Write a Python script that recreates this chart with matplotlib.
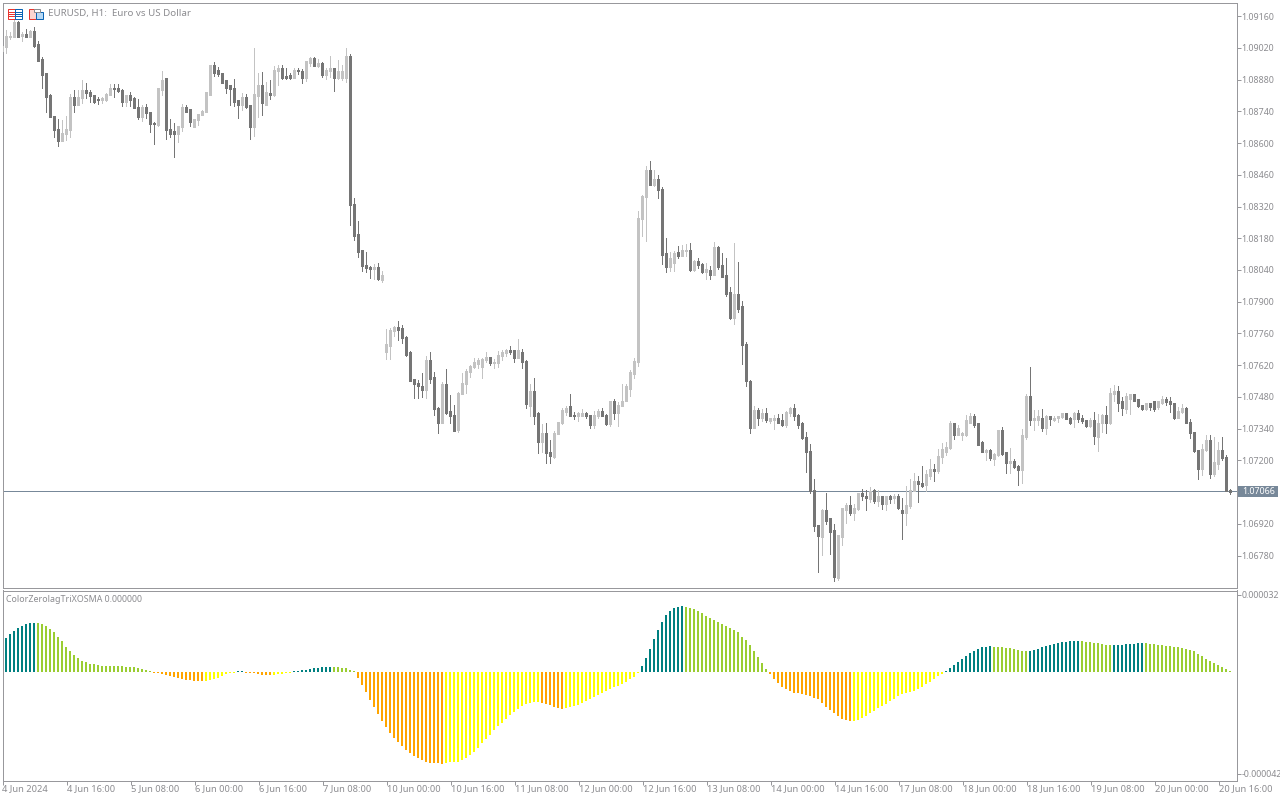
import matplotlib
matplotlib.use('Agg')
import matplotlib.pyplot as plt
from matplotlib.patches import Rectangle
import numpy as np

# EURUSD H1 prices, in points (1e-5), one value per bar
opens = [
    109010,109025,109069,109069,109131,109074,109080,109072,109094,109033,108969,108905,108808,108719,108662,108612,
    108644,108658,108803,108772,108799,108830,108825,108812,108794,108790,108790,108812,108842,108843,108834,108781,
    108808,108797,108759,108715,108759,108737,108687,108680,108834,108887,108662,108649,108640,108671,108759,108746,
    108671,108702,108724,108737,108816,108944,108922,108909,108874,108852,108843,108786,108768,108799,108764,108671,
    108808,108852,108772,108819,108816,108919,108931,108894,108900,108891,108922,108918,108891,108953,108971,108944,
    108953,108900,108918,108927,108887,108887,108887,108984,108331,108195,108124,108062,108051,108046,108053,107996,
    107678,107705,107771,107788,107780,107744,107674,107555,107541,107528,107511,107643,107564,107431,107365,107533,
    107414,107400,107334,107493,107537,107590,107612,107625,107616,107643,107652,107631,107630,107661,107674,107683,
    107683,107652,107678,107638,107444,107506,107409,107281,107321,107237,107215,107317,107365,107414,107436,107399,
    107400,107400,107405,107400,107356,107396,107418,107400,107361,107458,107409,107440,107462,107519,107581,107638,
    108265,108362,108481,108419,108441,108397,108115,108057,108071,108119,108102,108125,108128,108040,108079,108066,
    108035,108040,108018,108141,108062,108018,107943,107828,107934,107877,107713,107550,107343,107422,107387,107405,
    107374,107378,107383,107374,107356,107409,107427,107400,107361,107303,107241,107069,106915,106862,106977,106942,
    106893,106681,106862,106981,107003,106972,106986,107056,107043,107030,107069,107021,107039,107008,107039,107034,
    107039,106981,106968,106999,107065,107105,107100,107092,107131,107159,107153,107215,107241,107255,107361,107316,
    107315,107312,107369,107396,107361,107277,107237,107246,107206,107224,107330,107233,107189,107197,107175,107158,
    107303,107480,107378,107378,107387,107343,107396,107378,107387,107392,107405,107383,107383,107405,107387,107374,
    107352,107378,107303,107365,107400,107365,107497,107506,107458,107427,107475,107493,107471,107444,107427,107449,
    107458,107436,107453,107471,107462,107453,107387,107414,107427,107369,107325,107242,107162,107246,107286,107140,
    107184,107242,107215,107068,
]
highs = [
    109033,109099,109090,109149,109137,109090,109102,109099,109110,109049,108981,108908,108816,108719,108705,108702,
    108719,108816,108834,108834,108878,108863,108834,108812,108803,108803,108821,108861,108861,108861,108839,108808,
    108825,108803,108794,108768,108772,108737,108693,108843,108918,108887,108706,108689,108675,108772,108768,108746,
    108706,108728,108746,108825,108944,108958,108936,108909,108878,108852,108883,108790,108821,108816,108768,109019,
    108909,108913,108869,108878,108940,108944,108944,108931,108909,108931,108931,108927,108962,108980,108980,108971,
    108958,108931,108984,108931,108966,108944,109019,108993,108358,108256,108128,108120,108058,108067,108071,108036,
    107780,107784,107793,107815,107797,107749,107683,107559,107555,107586,107661,107678,107590,107436,107546,107603,
    107489,107444,107502,107586,107603,107621,107652,107652,107652,107678,107652,107647,107683,107687,107691,107705,
    107687,107736,107691,107643,107537,107564,107414,107361,107365,107290,107330,107369,107431,107440,107493,107414,
    107414,107427,107414,107400,107418,107427,107431,107405,107462,107471,107458,107537,107537,107599,107652,108300,
    108371,108498,108520,108481,108459,108406,108181,108119,108124,108146,108150,108154,108159,108084,108093,108071,
    108071,108057,108163,108146,108115,108093,107965,108159,108075,107903,107722,107555,107440,107431,107427,107431,
    107387,107400,107405,107405,107418,107436,107449,107405,107369,107325,107272,107118,106915,106986,107056,106946,
    106920,106871,106990,107012,107043,107008,107056,107074,107069,107083,107074,107069,107039,107043,107047,107052,
    107052,107034,107087,107118,107144,107131,107175,107158,107206,107184,107250,107277,107281,107374,107361,107356,
    107325,107400,107409,107405,107365,107286,107250,107250,107233,107334,107347,107237,107255,107206,107180,107339,
    107493,107612,107422,107422,107427,107400,107396,107396,107396,107409,107409,107392,107414,107422,107400,107378,
    107387,107414,107405,107405,107440,107519,107533,107528,107480,107497,107493,107493,107471,107444,107453,107449,
    107458,107462,107484,107480,107480,107453,107436,107449,107436,107383,107325,107242,107272,107312,107312,107303,
    107281,107303,107224,107074,
]
lows = [
    109006,108999,109060,109069,109069,109052,109069,109066,109025,108963,108843,108739,108714,108628,108589,108609,
    108614,108628,108739,108772,108778,108799,108781,108777,108772,108775,108786,108812,108803,108825,108764,108764,
    108764,108755,108706,108697,108711,108649,108596,108675,108812,108618,108627,108540,108605,108653,108737,108675,
    108671,108680,108724,108737,108816,108896,108896,108865,108821,108768,108764,108711,108746,108755,108618,108631,
    108715,108724,108772,108794,108808,108856,108883,108883,108883,108891,108905,108865,108874,108940,108940,108936,
    108891,108883,108891,108830,108883,108878,108869,108239,108173,108098,108036,108031,108005,108001,107996,107987,
    107647,107647,107749,107731,107718,107661,107550,107475,107475,107480,107475,107541,107400,107321,107365,107405,
    107365,107330,107325,107493,107497,107568,107608,107608,107564,107634,107621,107608,107612,107643,107661,107669,
    107634,107652,107608,107431,107396,107361,107233,107237,107189,107189,107211,107317,107361,107400,107396,107383,
    107374,107396,107387,107343,107343,107387,107396,107356,107352,107383,107352,107440,107462,107484,107564,107616,
    108190,108168,108415,108410,108357,108066,108031,108035,108035,108093,108102,108102,108035,108035,108049,108027,
    108000,108000,108018,108044,108013,107925,107824,107802,107855,107625,107528,107321,107343,107356,107374,107369,
    107365,107339,107365,107352,107347,107396,107378,107343,107294,107149,107056,106889,106708,106783,106920,106787,
    106668,106673,106827,106924,106959,106937,106981,107025,106981,107017,107012,106999,106986,106981,107012,107012,
    106986,106853,106915,106990,107065,107017,107083,107065,107118,107109,107144,107189,107224,107250,107294,107316,
    107290,107308,107369,107347,107268,107237,107202,107202,107180,107219,107224,107144,107144,107166,107092,107100,
    107295,107356,107334,107356,107330,107317,107356,107374,107369,107387,107383,107361,107347,107369,107365,107347,
    107347,107272,107242,107325,107321,107361,107462,107418,107400,107409,107405,107466,107436,107422,107422,107422,
    107418,107427,107449,107444,107414,107383,107387,107409,107365,107299,107237,107118,107136,107242,107123,107131,
    107162,107202,107065,107052,
]
closes = [
    109028,109072,109072,109131,109069,109081,109072,109094,109028,108966,108902,108803,108716,108658,108609,108644,
    108658,108803,108772,108803,108834,108821,108808,108781,108791,108797,108816,108843,108840,108830,108781,108808,
    108790,108755,108715,108759,108733,108684,108684,108840,108874,108658,108644,108640,108671,108755,108741,108693,
    108706,108728,108741,108821,108944,108913,108905,108869,108847,108839,108781,108768,108799,108759,108671,108816,
    108852,108777,108821,108816,108922,108931,108891,108891,108887,108921,108918,108891,108958,108971,108944,108953,
    108900,108922,108927,108887,108918,108918,108984,108327,108190,108120,108058,108049,108048,108053,108001,108018,
    107713,107771,107788,107775,107740,107669,107550,107537,107528,107511,107643,107559,107427,107365,107533,107409,
    107396,107330,107497,107541,107594,107616,107630,107643,107647,107652,107630,107634,107665,107678,107683,107678,
    107652,107683,107634,107449,107506,107400,107281,107321,107233,107220,107321,107369,107422,107431,107396,107396,
    107409,107409,107396,107356,107400,107418,107400,107361,107458,107409,107444,107462,107524,107586,107638,108269,
    108366,108481,108419,108441,108397,108106,108057,108093,108115,108102,108128,108128,108040,108079,108062,108035,
    108044,108018,108141,108057,108013,107938,107828,107934,107868,107709,107550,107343,107422,107387,107405,107378,
    107383,107387,107369,107356,107413,107427,107396,107356,107299,107241,107069,106911,106867,106977,106933,106884,
    106686,106867,106986,106999,106972,106990,107056,107047,107034,107065,107021,107039,107008,107039,107030,107039,
    106990,106968,107003,107069,107109,107096,107087,107136,107158,107155,107219,107250,107255,107361,107316,107339,
    107319,107374,107396,107356,107272,107237,107246,107211,107228,107330,107228,107189,107197,107171,107158,107308,
    107480,107378,107383,107392,107347,107396,107383,107387,107396,107405,107383,107369,107405,107383,107374,107352,
    107378,107308,107365,107400,107365,107497,107506,107453,107431,107480,107493,107466,107440,107427,107449,107436,
    107427,107458,107471,107458,107449,107387,107418,107427,107365,107321,107242,107162,107250,107286,107140,107189,
    107242,107211,107065,107064,
]

# oscillator, in 1e-6, starts on the second bar
osc_values = [
    14.1,15.7,16.9,18.2,19.0,19.8,20.3,20.3,
    20.3,19.8,19.0,17.8,16.5,14.5,12.8,10.3,8.7,7.0,5.8,4.5,4.1,3.3,3.3,2.9,2.5,2.5,2.5,2.5,2.5,2.5,2.1,2.1,2.1,1.7,1.2,0.8,0.4,
    -0.3,-0.4,-0.8,-1.2,-1.7,-2.1,-2.5,-2.9,-3.3,-3.3,-3.7,-3.7,-3.7,
    -3.7,-3.3,-2.9,-2.5,-1.7,-0.8,-0.4,-0.3,
    0.3,0.3,
    -0.3,-0.3,-0.3,-0.8,-1.2,-1.2,-1.2,
    -1.2,-0.8,-0.8,-0.4,-0.3,
    0.3,0.4,0.8,0.8,1.2,1.7,1.7,2.1,2.1,2.1,
    2.1,2.1,1.7,1.7,0.8,0.3,
    -2.5,-5.4,-8.3,-11.6,-14.5,-17.4,-20.3,-22.7,-25.2,-27.3,-28.9,-30.6,-32.2,-33.5,-34.7,-35.6,-36.4,-37.2,-37.6,-37.6,-37.6,-38.0,
    -37.6,-37.3,-37.2,-37.2,-36.4,-35.6,-34.3,-33.1,-31.4,-29.4,-27.7,-26.0,-24.0,-22.3,-21.1,-19.4,-17.8,-16.5,-15.3,-14.1,-13.2,-12.8,-12.4,-12.4,
    -12.8,-13.2,-13.6,-14.5,-14.9,-15.3,
    -14.9,-14.5,-14.1,-13.6,-12.8,-12.0,-11.2,-10.3,-9.5,-8.7,-7.9,-7.0,-6.2,-5.8,-5.0,-4.1,-2.9,-2.1,-0.3,
    2.5,5.8,9.5,13.6,17.4,20.7,23.6,25.2,26.5,26.9,27.3,
    26.9,26.5,26.0,25.2,24.4,23.2,22.3,21.5,20.7,19.8,19.0,18.2,17.4,16.5,14.5,13.2,11.2,8.7,6.2,3.7,1.2,
    -0.8,-2.9,-4.5,-6.2,-7.0,-7.9,-8.7,-8.7,-9.1,-9.5,-9.9,-10.7,-11.2,-12.8,-14.5,-15.7,-16.9,-18.2,-19.4,-19.8,-20.3,
    -20.3,-19.8,-19.0,-18.2,-16.9,-16.1,-14.9,-14.1,-13.2,-12.0,-11.2,-9.9,-9.1,-8.7,-8.3,-7.9,-7.0,-6.2,-5.0,-4.1,-2.9,-1.7,-0.8,
    0.4,1.7,2.9,4.1,5.4,6.6,7.9,8.7,9.5,10.3,10.3,10.7,
    10.3,10.3,10.3,9.9,9.9,9.5,9.1,8.7,8.7,
    8.7,9.1,9.5,10.3,10.7,11.2,11.6,12.0,12.4,12.4,12.8,12.8,12.8,
    12.8,12.4,12.4,12.0,12.0,11.6,11.2,11.2,
    11.2,11.2,11.2,11.6,11.6,11.6,12.0,12.0,
    12.0,11.6,11.6,11.2,11.2,10.7,10.7,10.3,10.3,9.9,9.5,9.1,8.7,7.4,6.6,5.4,4.5,3.7,2.9,2.1,1.2,0.4,
]
osc_run_colors = ['teal','green','orange','yellow','teal','orange','yellow','teal','green','orange','yellow',
                  'orange','yellow','teal','green','orange','yellow','teal','green','teal','green','teal','green']
osc_run_lengths = [8,29,13,8,2,7,5,10,6,22,24,6,19,11,21,21,23,12,9,13,8,8,22]

price_ticks = [1.0916,1.0902,1.0888,1.0874,1.0860,1.0846,1.0832,1.0818,1.0804,
               1.0790,1.0776,1.0762,1.0748,1.0734,1.0720,1.0692,1.0678]
time_labels = ['4 Jun 2024','4 Jun 16:00','5 Jun 08:00','6 Jun 00:00','6 Jun 16:00','7 Jun 08:00',
               '10 Jun 00:00','10 Jun 16:00','11 Jun 08:00','12 Jun 00:00','12 Jun 16:00','13 Jun 08:00',
               '14 Jun 00:00','14 Jun 16:00','17 Jun 08:00','18 Jun 00:00','18 Jun 16:00','19 Jun 08:00',
               '20 Jun 00:00','20 Jun 16:00']
last_price = 1.07066

UP = '#c3c3c3'
DOWN = '#757575'
FRAME = '#98989c'
TEXT = '#8c8c90'
LAST = '#778899'
PALETTE = {'teal': '#008080', 'green': '#9acd32', 'orange': '#ffa500', 'yellow': '#ffff00'}
FS_Y = 6.4
FS_X = 6.7
FONT = 'Noto Sans'
PX = 0.72  # one pixel in points at dpi 100

plt.rcParams['font.family'] = FONT

W, H = 1280, 800
fig = plt.figure(figsize=(W / 100, H / 100), dpi=100, facecolor='white')


def px_axes(left, top, right, bottom):
    return fig.add_axes([left / W, 1 - bottom / H, (right - left) / W, (bottom - top) / H])


ax = px_axes(2.5, 2.5, 1237, 588)
ax2 = px_axes(2.5, 590.5, 1237, 781)

o = np.array(opens) / 1e5
h = np.array(highs) / 1e5
l = np.array(lows) / 1e5
c = np.array(closes) / 1e5
x = np.arange(len(o))
up = c > o
cols = np.where(up, UP, DOWN)

# wicks then bodies, 1px and 3px wide
ax.vlines(x, l, h, colors=cols, linewidth=PX, antialiased=False, zorder=3)
ax.vlines(x, np.minimum(o, c) - 0.00002, np.maximum(o, c) + 0.00002, colors=cols,
          linewidth=3 * PX, antialiased=False, zorder=3, capstyle='butt')
ax.axhline(last_price, color=LAST, linewidth=PX, antialiased=False, zorder=2)

ax.set_xlim(0.1, 308.7)
ax.set_ylim(1.06637, 1.09220)
ax.yaxis.tick_right()
ax.set_yticks(price_ticks)
ax.set_yticklabels(['%.5f' % p for p in price_ticks])
ax.set_xticks([])

osc = np.array(osc_values)
osc_x = np.arange(1, len(osc) + 1)
osc_cols = np.repeat([PALETTE[n] for n in osc_run_colors], osc_run_lengths)
ax2.vlines(osc_x - 0.1, 0, osc, colors=osc_cols, linewidth=2 * PX, antialiased=False, capstyle='butt')
ax2.set_xlim(0.1, 308.7)
ax2.set_ylim(-45.06, 33.7)
ax2.yaxis.tick_right()
ax2.set_yticks([32, -42])
ax2.set_yticklabels(['0.000032', '-0.000042'])
ax2.set_xticks(np.arange(len(time_labels)) * 16 + 0.1)
ax2.set_xticklabels(time_labels, ha='left')

for a in (ax, ax2):
    for s in a.spines.values():
        s.set_color(FRAME)
        s.set_linewidth(PX)
    a.tick_params(axis='both', color=FRAME, labelcolor=TEXT, length=3, width=PX)
    a.tick_params(axis='y', labelsize=FS_Y, pad=0.4)
    a.tick_params(axis='x', labelsize=FS_X, pad=-0.4)

# overlay in pixels for the header, labels and the small icons
ov = fig.add_axes([0, 0, 1, 1], zorder=10)
ov.set_xlim(0, W)
ov.set_ylim(H, 0)
ov.axis('off')

ov.text(48, 13.5, 'EURUSD, H1:  Euro vs US Dollar', color=TEXT, fontsize=7.0, va='center', ha='left')
ov.text(6, 599.5, 'ColorZerolagTriXOSMA 0.000000', color=TEXT, fontsize=6.4, va='center', ha='left')

ov.add_patch(Rectangle((1238, 485.5), 40, 11.5, facecolor=LAST, edgecolor='none'))
ov.text(1259, 491.5, '1.07066', color='white', fontsize=FS_Y, va='center', ha='center')

# icons
RED, BLUE = '#e8352e', '#0a64b4'
ov.add_patch(Rectangle((7.5, 8.5), 7, 10, fc='white', ec=RED, lw=PX))
ov.add_patch(Rectangle((14.5, 8.5), 7, 10, fc='white', ec=BLUE, lw=PX))
for yy in (11.5, 13.5, 15.5):
    ov.plot([9, 14], [yy, yy], color=RED, lw=PX)
    ov.plot([16, 21], [yy, yy], color=BLUE, lw=PX)
ov.add_patch(Rectangle((28.5, 8.5), 7, 10, fc='#fbd5d0', ec=RED, lw=PX))
ov.add_patch(Rectangle((35.5, 11.5), 7, 7, fc='#b5d8f5', ec=BLUE, lw=PX))
ov.add_patch(Rectangle((33.5, 8.5), 6, 3, fc='white', ec='#8c8c90', lw=PX))

fig.savefig('out.png', dpi=100)
